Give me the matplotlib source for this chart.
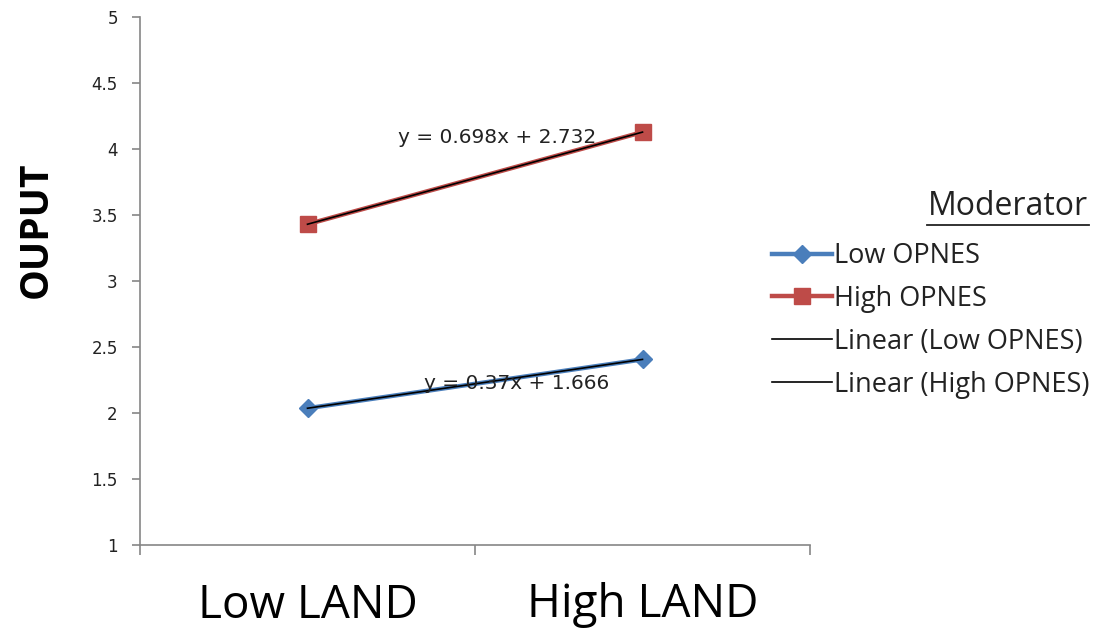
import numpy as np
import matplotlib.pyplot as plt
from matplotlib.lines import Line2D

# data
land_labels = ["Low LAND", "High LAND"]
low_opnes = [2.036, 2.406]
high_opnes = [3.430, 4.128]
series_names = ["Low OPNES", "High OPNES"]
trend_names = ["Linear (Low OPNES)", "Linear (High OPNES)"]
y_ticks = [1, 1.5, 2, 2.5, 3, 3.5, 4, 4.5, 5]

blue = "#4A7EBB"
red = "#BE4B48"
grey = "#868686"

fig = plt.figure(figsize=(10.94, 6.30), dpi=100)
ax = fig.add_axes([140 / 1094, 1 - 545 / 630, 670 / 1094, 528 / 630])

x = np.arange(1, len(land_labels) + 1)

ax.plot(x, low_opnes, color=blue, lw=3.2, marker="D", ms=9,
        label=series_names[0], zorder=2)
ax.plot(x, high_opnes, color=red, lw=3.2, marker="s", ms=11,
        label=series_names[1], zorder=2)

# linear trendlines
fits = []
for vals, name in zip([low_opnes, high_opnes], trend_names):
    m, b = np.polyfit(x, vals, 1)
    fits.append((m, b))
    ax.plot(x, m * x + b, color="black", lw=1.2, label=name, zorder=3)

eq_font = dict(fontsize=14.5, family="DejaVu Sans", color="#222222", zorder=4)
ax.text(1.348, 2.227, "y = %gx + %g" % (round(fits[0][0], 3), round(fits[0][1], 3)),
        va="center", ha="left", **eq_font)
ax.text(1.270, 4.09, "y = %gx + %g" % (round(fits[1][0], 3), round(fits[1][1], 3)),
        va="center", ha="left", **eq_font)

ax.set_xlim(0.5, len(land_labels) + 0.5)
ax.set_ylim(1, 5)
ax.set_yticks(y_ticks)
ax.set_yticklabels([("%g" % t) for t in y_ticks], fontsize=12,
                   family="DejaVu Sans", color="#222222")

ax.set_xticks(x)
ax.set_xticklabels(land_labels, fontsize=33, family="Open Sans")
ax.set_xticks(np.arange(0.5, len(land_labels) + 1, 1), minor=True)
ax.tick_params(axis="x", which="major", length=0, pad=27)
ax.tick_params(axis="x", which="minor", length=7, color=grey, width=1.2)
ax.tick_params(axis="y", length=6, color=grey, width=1.2, pad=10)

for s in ["top", "right"]:
    ax.spines[s].set_visible(False)
for s in ["left", "bottom"]:
    ax.spines[s].set_color(grey)
    ax.spines[s].set_linewidth(1.2)

ax.set_ylabel("OUPUT", fontsize=28, fontweight="bold", family="Open Sans")
ax.yaxis.set_label_coords(-0.125, 0.597)

# legend
fig.text(1088 / 1094, 1 - 207 / 630, "Moderator", ha="right", va="center",
         fontsize=23, family="Open Sans", color="#222222")
fig.add_artist(Line2D([927 / 1094, 1089 / 1094], [1 - 225 / 630, 1 - 225 / 630],
                      color="#222222", lw=1.3))
leg = ax.legend(loc="upper left", bbox_to_anchor=(772 / 1094, 1 - 242 / 630),
                bbox_transform=fig.transFigure, frameon=False, borderpad=0,
                borderaxespad=0, handlelength=2.2, handletextpad=0.1,
                labelspacing=0.55, prop={"family": "Open Sans", "size": 19.5})
for t in leg.get_texts():
    t.set_color("#222222")

fig.savefig("out.png", dpi=100)
